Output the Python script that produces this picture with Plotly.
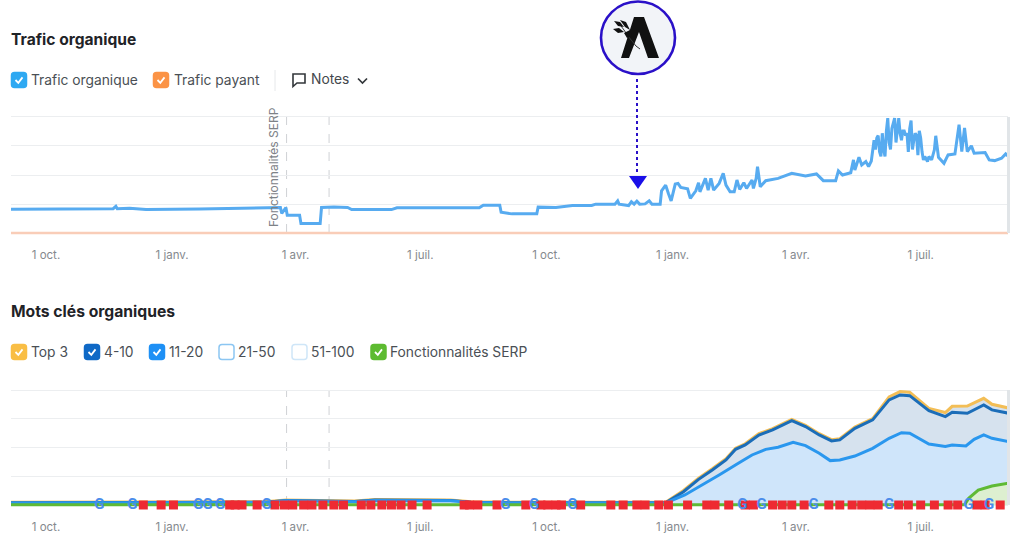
import pandas as pd
import plotly.graph_objects as go

W, H = 1024, 547
DAY0 = pd.Timestamp("2021-10-01")

# ---- data (days after 1 Oct of the first year, values on a 0-100 unlabeled scale)
organic_days = [-26,0,20,49,51,52,61,73,112,161,171,172,174,175,176,185,186,200,201,210,220,223,252,256,316,319,331,332,338,
 340,358,359,372,384,398,401,415,417,418,425,427,429,431,433,437,440,442,448,449,452,454,456,459,461,463,468,470,474,476,477,481,483,485,487,491,494,496,499,502,504,506,509,511,515,516,518,519,521,525,534,544,554,562,567,576,578,581,587,589,590,593,595,598,600,602,
 604,605,606,607,608,609,610,611,612,613,614,615,616,617,618,619,620,621,622,623,624,625,626,627,628,629,630,631,632,633,634,635,636,637,638,639,640,
 641,643,644,646,648,649,651,655,658,663,666,668,670,672,675,677,685,688,692,697,700,702]
organic_vals = [20.5,20.5,21.1,21,23,21,21.4,20.2,20.8,21.4,22,16.8,20.2,22,15.3,15.3,8.1,8.1,22,22.5,22,20.2,20.2,21.7,21.7,24,24,17.9,16.8,
 16.5,16.5,22.3,22,23.7,23.7,24.9,24.9,27.7,24.9,23.7,26.9,24.9,27.5,24.9,25.1,27.7,24.9,24.9,36.4,41.3,34.1,27.7,42.2,42.8,39.3,38.1,29.8,36.4,43.4,35.5,47.1,37,47.1,37,42.8,51.4,41.3,35.5,35.5,45.7,37.6,43.4,38.4,45.7,38.4,47.1,57.2,39.9,45.1,47.1,51.4,49.1,50.9,45.1,45.1,53.5,50,52,63,54.3,65.3,58.7,61.6,57.2,62.1,
 80,72,82,84,70,66,86,72,66,88,99,78,72,90,96,99,78,92,99,86,80,88,88,84,86,70,90,97,72,80,86,84,67,88,82,70,63,
 65.9,61.6,65.9,63,71.7,83.8,65.3,60.1,67.3,68.2,93.3,70.2,90.5,70.2,75.1,68.8,69.4,63,62.4,64.4,68.2,65.9]
paid_days = [-26, 702]
paid_vals = [0, 0]

kw_days = [-26,40,100,160,175,210,225,240,295,310,340,440,452,465,476,486,496,503,510,520,530,544,554,564,573,579,590,603,615,623,630,644,656,661,672,684,690,702]
top3_vals = [2.4,2.4,2.4,2.9,4.4,3.9,3.4,4.7,4.4,2.9,2.4,2.4,2.4,12.6,23.3,31.5,40.2,49.4,53.2,62,66.4,74.5,69.3,62,56.8,57.7,67.8,75.1,94,98.6,98,84,80.4,85.8,86.1,92.8,87.6,84.4]
kw4_10_vals = [2,2,2,2.5,4,3.5,3,4.3,4,2.5,2,2,2,11.6,22.3,30.5,39.2,48.4,52.2,60.9,65.3,73.4,68.2,60.9,55.7,56.6,66.7,74,91.4,95.7,95.1,82.1,76.9,80.6,79.8,87,82.7,79.8]
kw11_20_days = [-26,40,100,160,175,210,225,240,295,310,340,440,452,466,479,491,505,515,525,534,545,554,564,572,579,590,603,615,624,630,644,656,661,671,677,684,690,702]
kw11_20_vals = [1.8,1.8,1.8,2.2,3.6,3.2,2.8,3.9,3.6,2.2,1.8,1.8,1.8,8.7,17.4,26.1,36.3,43.5,48.4,50.2,54.5,51.6,45,38.6,39.2,42.6,49.3,58,62.9,62.4,53.1,50.8,52.2,51.3,57.1,60.9,58,55.1]
serp_days = [-26,300,670,673,680,690,702]
serp_vals = [0.3,0.3,0.3,5.8,13,16.5,18.9]

flag_days = [71,84,93,134,138,143,154,167,174,180,188,194,202,210,217,230,237,245,252,259,267,278,305,309,315,329,
 350,361,366,372,376,390,412,421,431,437,447,454,468,482,488,498,510,516,530,537,544,553,571,579,588,595,601,607,622,629,638,648,658,665,679,685,696,703]
google_days = [39,63,111,118,127,161,335,356,384,508,522,560,615,673,688]
note_days = [175.5, 206.5]

tick_dates = ["2021-10-01","2022-01-01","2022-04-01","2022-07-01","2022-10-01","2023-01-01","2023-04-01","2023-07-01"]
tick_labels = ["1 oct.","1 janv.","1 avr.","1 juil.","1 oct.","1 janv.","1 avr.","1 juil."]
grid_vals = [0,25,50,75,100]
serp_note_label = "Fonctionnalités SERP"

def dates(days):
    return [DAY0 + pd.Timedelta(days=int(d)) for d in days]

fig = go.Figure()
BLUE = "#57ABF0"
fig.add_trace(go.Scatter(x=dates(paid_days), y=paid_vals, mode="lines", line=dict(color="#F9CDB8", width=2.5), xaxis="x", yaxis="y", cliponaxis=False))
fig.add_trace(go.Scatter(x=dates(organic_days), y=organic_vals, mode="lines", line=dict(color=BLUE, width=3), xaxis="x", yaxis="y", cliponaxis=False))

fig.add_trace(go.Scatter(x=dates(kw_days), y=top3_vals, mode="lines", fill="tozeroy", fillcolor="#D6E2EE", line=dict(color="#F3BE56", width=3), xaxis="x2", yaxis="y2"))
fig.add_trace(go.Scatter(x=dates(kw_days), y=kw4_10_vals, mode="lines", fill="tozeroy", fillcolor="#D6E2EE", line=dict(color="#1B6DB8", width=3), xaxis="x2", yaxis="y2"))
fig.add_trace(go.Scatter(x=dates(kw11_20_days), y=kw11_20_vals, mode="lines", fill="tozeroy", fillcolor="#CFE5FA", line=dict(color="#2A97EE", width=3), xaxis="x2", yaxis="y2"))
fig.add_trace(go.Scatter(x=dates(serp_days), y=serp_vals, mode="lines", fill="tozeroy", fillcolor="#DDEFD0", line=dict(color="#5FBA35", width=3), xaxis="x2", yaxis="y2", cliponaxis=False))
fig.add_trace(go.Scatter(x=dates(flag_days), y=[0]*len(flag_days), mode="markers", marker=dict(symbol="square", size=9, color="#EE2A32"), xaxis="x2", yaxis="y2", cliponaxis=False))
fig.add_trace(go.Scatter(x=dates(google_days), y=[0]*len(google_days), mode="text", text=["G"]*len(google_days),
    textfont=dict(family="Roboto", size=15, color="#4A8CEB", weight=700), xaxis="x2", yaxis="y2", cliponaxis=False))

def px(x): return x / W
def py(y): return 1 - y / H

def path(pts, close=True):
    s = "M " + " L ".join(f"{px(x):.5f},{py(y):.5f}" for x, y in pts)
    return s + (" Z" if close else "")

shapes, annos = [], []

def label(x, y, t, size=13.8, color="#4A4F55", weight=400, anchor="left", angle=0):
    annos.append(dict(xref="paper", yref="paper", x=px(x), y=py(y), text=t, showarrow=False, xanchor=anchor, yanchor="middle",
        textangle=angle, font=dict(family="Inter", size=size, color=color, weight=weight), borderpad=0, xshift=-1 if angle == 0 else 0))

def rrect(x0, y0, x1, y1, fill, line, r=3):
    p = (f"M {px(x0+r):.5f},{py(y0):.5f} L {px(x1-r):.5f},{py(y0):.5f} Q {px(x1):.5f},{py(y0):.5f} {px(x1):.5f},{py(y0+r):.5f} "
         f"L {px(x1):.5f},{py(y1-r):.5f} Q {px(x1):.5f},{py(y1):.5f} {px(x1-r):.5f},{py(y1):.5f} "
         f"L {px(x0+r):.5f},{py(y1):.5f} Q {px(x0):.5f},{py(y1):.5f} {px(x0):.5f},{py(y1-r):.5f} "
         f"L {px(x0):.5f},{py(y0+r):.5f} Q {px(x0):.5f},{py(y0):.5f} {px(x0+r):.5f},{py(y0):.5f} Z")
    shapes.append(dict(type="path", xref="paper", yref="paper", path=p, fillcolor=fill, line=dict(color=line, width=1.5), layer="above"))

def checkbox(x, yc, color, checked=True, t=None, tx=None):
    if checked:
        rrect(x, yc-7.5, x+15, yc+7.5, color, color)
        shapes.append(dict(type="path", xref="paper", yref="paper", path=path([(x+4, yc), (x+6.8, yc+2.8), (x+11, yc-2.6)], False),
                           line=dict(color="white", width=1.8), layer="above"))
    else:
        rrect(x, yc-7.5, x+15, yc+7.5, "white", color)
    if t:
        label(tx, yc, t)

# titles
label(11, 39, "Trafic organique", size=15.6, color="#1F2327", weight=700)
label(11, 311, "Mots clés organiques", size=15.7, color="#1F2327", weight=700)

# top legend
checkbox(11.5, 80, "#2EA9F2", True, "Trafic organique", 31)
checkbox(153.5, 80, "#FB9345", True, "Trafic payant", 174)
shapes.append(dict(type="line", xref="paper", yref="paper", x0=px(275), x1=px(275), y0=py(70), y1=py(91), line=dict(color="#E6E8EA", width=1)))
shapes.append(dict(type="path", xref="paper", yref="paper", path=path([(293,74),(305,74),(305,83),(297,83),(293,86.5)]), line=dict(color="#33373B", width=1.6), layer="above"))
label(311, 79, "Notes", size=13.8, color="#44484D")
shapes.append(dict(type="path", xref="paper", yref="paper", path=path([(358,78.5),(362.5,83),(367,78.5)], False), line=dict(color="#33373B", width=1.7), layer="above"))

# bottom legend
checkbox(11.5, 352, "#F9BE45", True, "Top 3", 31)
checkbox(84.5, 352, "#0F69C6", True, "4-10", 104)
checkbox(149.5, 352, "#1E90F5", True, "11-20", 169)
checkbox(219, 352, "#8CC6F2", False, "21-50", 238)
checkbox(292, 352, "#CFE6F8", False, "51-100", 311)
checkbox(371, 352, "#5DBB31", True, "Fonctionnalités SERP", 390)

# rotated note label
label(273, 167, serp_note_label, size=12, color="#7D8287", anchor="center", angle=-90)

# note dashed lines
for nd in note_days:
    d = DAY0 + pd.Timedelta(days=nd)
    for axis in ("y", "y2"):
        shapes.append(dict(type="line", xref="x", yref=axis, x0=d, x1=d, y0=0, y1=100, line=dict(color="#CFD2D5", width=1, dash="dash"), layer="below"))

# right-hand shadow
for y0, y1 in ((117, 233), (390, 505)):
    shapes.append(dict(type="rect", xref="paper", yref="paper", x0=px(1007), x1=px(1010), y0=py(y0), y1=py(y1), fillcolor="#E1E5E8", line=dict(width=0), layer="above"))

# logo callout
LOGO = "#2A10C8"
shapes.append(dict(type="circle", xref="paper", yref="paper", x0=px(601), x1=px(675), y0=py(1.5), y1=py(74), fillcolor="#F2F4F8", line=dict(color=LOGO, width=2.6)))
shapes.append(dict(type="path", xref="paper", yref="paper", path=path([(634,17),(644,17),(659,58),(648,58),(639,32),(629,58),(621,58)]), fillcolor="#111111", line=dict(width=0), layer="above"))
shapes.append(dict(type="path", xref="paper", yref="paper", path=path([(618,22),(624,30),(628,36),(636,46),(640,49)], False), line=dict(color="#333333", width=1), layer="above"))
for leaf in ([(614,21),(620,22),(624,27),(618,26)],[(620,20),(626,22),(630,30),(625,27)],[(613,29),(619,28),(624,32),(618,33)],[(624,33),(630,30),(632,36),(627,38)]):
    shapes.append(dict(type="path", xref="paper", yref="paper", path=path(leaf), fillcolor="#111111", line=dict(width=0), layer="above"))
shapes.append(dict(type="line", xref="paper", yref="paper", x0=px(637), x1=px(637), y0=py(79), y1=py(172), line=dict(color=LOGO, width=2, dash="dot")))
shapes.append(dict(type="path", xref="paper", yref="paper", path=path([(629,176),(647,176),(638,189)]), fillcolor="#1A0FE8", line=dict(width=0), layer="above"))

# x range: pixel-aligned to the chart span
xr = [DAY0 + pd.Timedelta(days=-25.5), DAY0 + pd.Timedelta(days=701.7)]
common_x = dict(type="date", range=xr, domain=[px(11), px(1008)], tickmode="array", tickvals=tick_dates, ticktext=tick_labels,
    showgrid=False, zeroline=False, showline=False, ticks="", ticklabelstandoff=10,
    tickfont=dict(family="Inter", size=11.5, color="#85898E"))
common_y = dict(range=[-3, 103], tickmode="array", tickvals=grid_vals, showticklabels=False, showgrid=True,
    gridcolor="#ECEEF0", gridwidth=1, zeroline=False, showline=False)

fig.update_layout(
    width=W, height=H, margin=dict(l=0, r=0, t=0, b=0), paper_bgcolor="white", plot_bgcolor="white", showlegend=False,
    xaxis=dict(common_x, anchor="y"),
    yaxis=dict(common_y, domain=[py(236.5), py(113.5)], anchor="x"),
    xaxis2=dict(common_x, anchor="y2", matches="x"),
    yaxis2=dict(common_y, domain=[py(508.45), py(386.55)], anchor="x2"),
    shapes=shapes, annotations=annos, hovermode=False,
)
fig.write_html("out.html", config=dict(displayModeBar=False),
               post_script="document.body.style.margin='0';document.body.style.overflow='hidden';")
